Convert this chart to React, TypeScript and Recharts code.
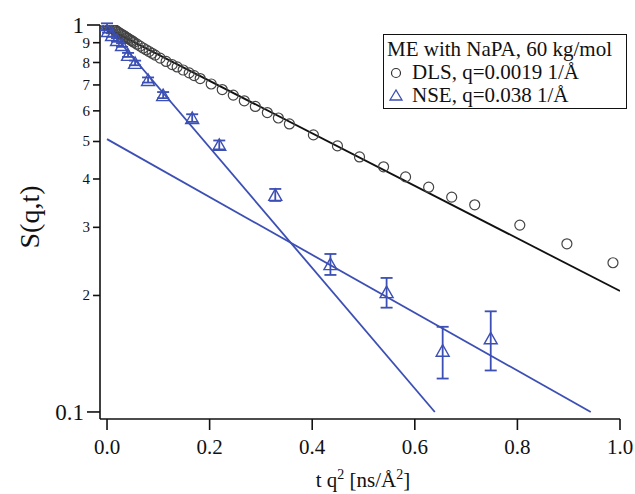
import * as React from "react";
import { ComposedChart, ErrorBar, Line, Scatter, XAxis, YAxis } from "recharts";

// DLS correlation, t q^2 in ns/Å^2
const dlsT = [
  0, 0.0029, 0.0059, 0.0088, 0.0117, 0.0146, 0.0176, 0.0205, 0.0234, 0.0264,
  0.0293, 0.0322, 0.0352, 0.0381, 0.041, 0.0439, 0.0469, 0.0498, 0.0527,
  0.0586, 0.0645, 0.0703, 0.0762, 0.082, 0.0879, 0.0938, 0.1035, 0.1152,
  0.127, 0.1367, 0.1484, 0.1602, 0.1699, 0.1816, 0.2031, 0.2246, 0.2461,
  0.2676, 0.2891, 0.3125, 0.334, 0.3555, 0.4023, 0.4492, 0.4922, 0.5391,
  0.582, 0.627, 0.6719, 0.7168, 0.8047, 0.8965, 0.9863,
];
const dlsS = [
  1.0, 0.994, 0.989, 0.983, 0.978, 0.972, 0.967, 0.961, 0.955, 0.95, 0.944,
  0.94, 0.934, 0.928, 0.923, 0.918, 0.913, 0.908, 0.902, 0.892, 0.882, 0.872,
  0.863, 0.854, 0.845, 0.836, 0.821, 0.805, 0.79, 0.779, 0.765, 0.752, 0.74,
  0.727, 0.704, 0.681, 0.659, 0.637, 0.616, 0.594, 0.575, 0.555, 0.52, 0.487,
  0.456, 0.43, 0.405, 0.381, 0.359, 0.343, 0.304, 0.272, 0.243,
];

// NSE, q = 0.038 1/Å
const nseT = [
  0, 0.002, 0.0098, 0.0195, 0.0293, 0.041, 0.0547, 0.08, 0.1094, 0.166,
  0.2188, 0.328, 0.4355, 0.545, 0.6543, 0.748,
];
const nseS = [
  1.0, 0.965, 0.942, 0.915, 0.888, 0.837, 0.798, 0.721, 0.659, 0.575, 0.49,
  0.364, 0.241, 0.204, 0.144, 0.155,
];
const nseErr = [
  0.01, 0.01, 0.01, 0.01, 0.01, 0.01, 0.011, 0.011, 0.012, 0.013, 0.013,
  0.013, 0.015, 0.018, 0.022, 0.027,
];

// fit lines (end points)
const dlsFitT = [0, 1.0];
const dlsFitS = [0.98, 0.2055];
const fastFitT = [0, 0.639];
const fastFitS = [0.988, 0.1];
const slowFitT = [0, 0.943];
const slowFitS = [0.507, 0.1];

const xTicks = [0, 0.2, 0.4, 0.6, 0.8, 1.0];
const yTicks = [0.1, 0.2, 0.3, 0.4, 0.5, 0.6, 0.7, 0.8, 0.9, 1];

const BLUE = "#3c4fb4";
const INK = "#111";
const FONT = '"Liberation Serif", "Times New Roman", serif';

const pairs = (xs: number[], ys: number[]) => xs.map((x, i) => ({ x, y: ys[i] }));

const dlsData = pairs(dlsT, dlsS);
const nseData = nseT.map((x, i) => ({ x, y: nseS[i], err: nseErr[i] }));
const dlsFit = pairs(dlsFitT, dlsFitS);
const fastFit = pairs(fastFitT, fastFitS);
const slowFit = pairs(slowFitT, slowFitS);

function XTick({ x, y, payload }: any) {
  return (
    <g>
      <line x1={x} x2={x} y1={y} y2={y + 11} stroke={INK} strokeWidth={1.6} />
      <text x={x} y={y + 35} textAnchor="middle" fontSize={21} fontFamily={FONT} fill={INK}>
        {payload.value.toFixed(1)}
      </text>
    </g>
  );
}

function YTick({ x, y, payload }: any) {
  const v = payload.value;
  const major = Math.abs(v - 1) < 1e-6 || Math.abs(v - 0.1) < 1e-6;
  const len = major ? 13 : 7;
  const label = Math.abs(v - 1) < 1e-6 ? "1" : major ? "0.1" : String(Math.round(v * 10));
  return (
    <g>
      <line x1={x - len} x2={x} y1={y} y2={y} stroke={INK} strokeWidth={1.6} />
      <text
        x={x - len - 3}
        y={y}
        dy={major ? 8 : 5}
        textAnchor="end"
        fontSize={major ? 23 : 15}
        fontFamily={FONT}
        fill={INK}
      >
        {label}
      </text>
    </g>
  );
}

const Ring = (p: any) => (
  <circle cx={p.cx} cy={p.cy} r={5} fill="none" stroke="#444" strokeWidth={1.2} />
);

const Tri = (p: any) => (
  <polygon
    points={`${p.cx},${p.cy - 6} ${p.cx - 6.5},${p.cy + 5.5} ${p.cx + 6.5},${p.cy + 5.5}`}
    fill="none"
    stroke={BLUE}
    strokeWidth={1.4}
  />
);

export default function App() {
  return (
    <div
      style={{
        position: "absolute",
        left: 0,
        top: 0,
        width: 635,
        height: 494,
        background: "#fff",
        fontFamily: FONT,
        color: INK,
      }}
    >
      <ComposedChart
        width={635}
        height={494}
        margin={{ top: 25, right: 15, left: 0, bottom: 0 }}
      >
        <XAxis
          dataKey="x"
          type="number"
          domain={[-0.0137, 1.0]}
          ticks={xTicks}
          interval={0}
          allowDataOverflow
          height={75}
          tickSize={0}
          tickMargin={0}
          tickLine={false}
          tick={<XTick />}
          axisLine={{ stroke: INK, strokeWidth: 1.6 }}
        />
        <YAxis
          dataKey="y"
          type="number"
          scale="log"
          domain={[0.0959, 1]}
          ticks={yTicks}
          interval={0}
          allowDataOverflow
          width={100}
          tickSize={0}
          tickMargin={0}
          tickLine={false}
          tick={<YTick />}
          axisLine={{ stroke: INK, strokeWidth: 1.6 }}
        />
        <Scatter data={dlsData} dataKey="y" shape={Ring} isAnimationActive={false} />
        <Line
          data={dlsFit}
          dataKey="y"
          type="linear"
          stroke={INK}
          strokeWidth={1.8}
          dot={false}
          isAnimationActive={false}
        />
        <Line
          data={fastFit}
          dataKey="y"
          type="linear"
          stroke={BLUE}
          strokeWidth={1.8}
          dot={false}
          isAnimationActive={false}
        />
        <Line
          data={slowFit}
          dataKey="y"
          type="linear"
          stroke={BLUE}
          strokeWidth={1.8}
          dot={false}
          isAnimationActive={false}
        />
        <Scatter data={nseData} dataKey="y" shape={Tri} isAnimationActive={false}>
          <ErrorBar dataKey="err" direction="y" width={6} stroke={BLUE} strokeWidth={1.8} />
        </Scatter>
      </ComposedChart>

      {/* axis titles */}
      <div
        style={{
          position: "absolute",
          left: 30,
          top: 217,
          transform: "translate(-50%, -50%) rotate(-90deg)",
          fontSize: 28,
          whiteSpace: "nowrap",
        }}
      >
        S(q,t)
      </div>
      <div
        style={{
          position: "absolute",
          left: 363,
          top: 480,
          transform: "translate(-50%, -50%)",
          fontSize: 21,
          whiteSpace: "nowrap",
        }}
      >
        t q<sup style={{ fontSize: 14 }}>2</sup> [ns/Å<sup style={{ fontSize: 14 }}>2</sup>]
      </div>

      {/* legend */}
      <div
        style={{
          position: "absolute",
          left: 383,
          top: 34,
          width: 244,
          height: 75,
          boxSizing: "border-box",
          border: `1.6px solid ${INK}`,
          background: "#fff",
          fontSize: 21,
          lineHeight: "23px",
          paddingTop: 3,
        }}
      >
        <div style={{ paddingLeft: 3, whiteSpace: "nowrap" }}>ME with NaPA, 60 kg/mol</div>
        <div style={{ display: "flex", alignItems: "center", whiteSpace: "nowrap" }}>
          <svg width={28} height={23}>
            <circle cx={12} cy={12} r={4.5} fill="none" stroke="#333" strokeWidth={1.2} />
          </svg>
          <span>DLS, q=0.0019 1/Å</span>
        </div>
        <div style={{ display: "flex", alignItems: "center", whiteSpace: "nowrap" }}>
          <svg width={28} height={23}>
            <polygon points="12,6 6,16 18,16" fill="none" stroke={BLUE} strokeWidth={1.3} />
          </svg>
          <span>NSE, q=0.038 1/Å</span>
        </div>
      </div>
    </div>
  );
}
